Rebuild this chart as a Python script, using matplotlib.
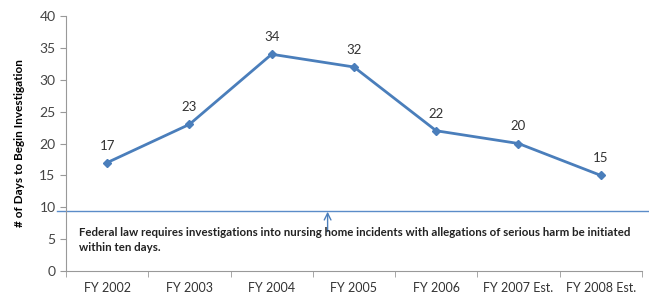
import numpy as np
import matplotlib.pyplot as plt

# datos
years = ["FY 2002", "FY 2003", "FY 2004", "FY 2005", "FY 2006", "FY 2007 Est.", "FY 2008 Est."]
days = [17, 23, 34, 32, 22, 20, 15]
limite = 9.4

plt.rcParams['font.family'] = ['Lato', 'DejaVu Sans']

fig = plt.figure(figsize=(6.49, 2.99), dpi=100)
ax = fig.add_axes([0.1017, 0.0936, 0.8873, 0.8529])

x = np.arange(len(years))
ax.plot(x, days, color='#4a7ebb', lw=2, marker='D', ms=4.5)
for xi, d in zip(x, days):
    ax.annotate(str(d), (xi, d), xytext=(0, 8), textcoords='offset points',
                ha='center', va='bottom', fontsize=9.5, color='#333333')

# linea del limite federal (sale del eje)
ax.axhline(limite, xmin=-0.016, xmax=1.02, color='#5b8cc8', lw=1, clip_on=False)
ax.annotate('', xy=(2.68, limite - 0.1), xytext=(2.68, 6.2),
            arrowprops=dict(arrowstyle='->', color='#4a7ebb', lw=1,
                            shrinkA=0, shrinkB=0, mutation_scale=12))
ax.text(-0.34, 4.9, "Federal law requires investigations into nursing home incidents with allegations of serious harm be initiated\nwithin ten days.",
        fontsize=8.3, fontweight='bold', color='#222222', va='center', ha='left', linespacing=1.45)

ax.set_xlim(-0.5, 6.5)
ax.set_ylim(0, 40)
ax.set_yticks(range(0, 41, 5))
ax.set_xticks(x)
ax.set_xticklabels(years)
ax.set_xticks(np.arange(-0.5, 6.6, 1), minor=True)
ax.tick_params(axis='x', which='major', length=0, pad=8, labelsize=9, labelcolor='#333333')
ax.tick_params(axis='x', which='minor', length=4, color='#999999')
ax.tick_params(axis='y', length=4, color='#999999', labelsize=10, labelcolor='#444444')
ax.set_ylabel("# of Days to Begin Investigation", fontsize=8.5, fontweight='bold', labelpad=10)

for s in ['top', 'right']:
    ax.spines[s].set_visible(False)
ax.spines['left'].set_color('#999999')
ax.spines['bottom'].set_color('#999999')

plt.savefig("out.png", dpi=100)
